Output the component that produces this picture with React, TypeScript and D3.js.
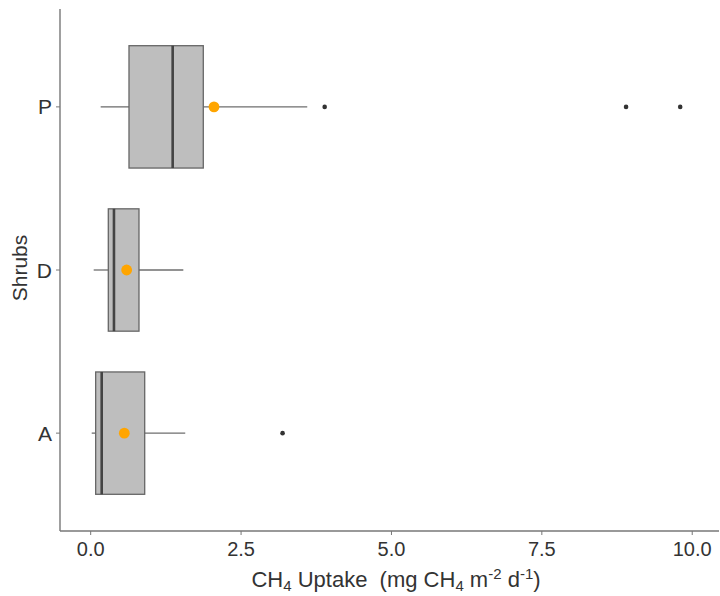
import React from "react";
import * as d3 from "d3";

const categories = ["A", "D", "P"];
const q1 = [0.083, 0.293, 0.637];
const median = [0.183, 0.387, 1.363];
const q3 = [0.898, 0.803, 1.872];
const whiskerLow = [0.017, 0.05, 0.166];
const whiskerHigh = [1.572, 1.54, 3.6];
const means = [0.559, 0.598, 2.05];
const outliers: number[][] = [[3.19], [], [3.89, 8.9, 9.8]];
const xTicks = [0, 2.5, 5, 7.5, 10];

const W = 720;
const H = 596;
const left = 60;
const right = 719;
const top = 9;
const bottom = 531;

export default function App() {
  const x = d3.scaleLinear().domain([-0.51, 10.445]).range([left, right]);
  const y = d3
    .scalePoint<string>()
    .domain([...categories].reverse())
    .range([top, bottom])
    .padding(0.6);
  const step = y.step();
  const bw = step * 0.75;
  const font = "'Liberation Sans', Arial, sans-serif";

  return (
    <svg
      width={W}
      height={H}
      style={{ position: "absolute", left: 0, top: 0, background: "#fff" }}
      fontFamily={font}
    >
      {categories.map((c, i) => {
        const cy = y(c)!;
        return (
          <g key={c}>
            <line x1={x(whiskerLow[i])} x2={x(q1[i])} y1={cy} y2={cy} stroke="#6e6e6e" strokeWidth={1.3} />
            <line x1={x(q3[i])} x2={x(whiskerHigh[i])} y1={cy} y2={cy} stroke="#6e6e6e" strokeWidth={1.3} />
            <rect
              x={x(q1[i])}
              y={cy - bw / 2}
              width={x(q3[i]) - x(q1[i])}
              height={bw}
              fill="#bebebe"
              stroke="#666"
              strokeWidth={1.3}
            />
            <line x1={x(median[i])} x2={x(median[i])} y1={cy - bw / 2} y2={cy + bw / 2} stroke="#444" strokeWidth={2.6} />
            {outliers[i].map((v, j) => (
              <circle key={j} cx={x(v)} cy={cy} r={2.3} fill="#333" />
            ))}
            <circle cx={x(means[i])} cy={cy} r={5.4} fill="#FFA500" />
          </g>
        );
      })}
      {/* axes */}
      <line x1={left} x2={left} y1={top} y2={bottom} stroke="#777" strokeWidth={1.4} />
      <line x1={left} x2={right} y1={bottom} y2={bottom} stroke="#777" strokeWidth={1.4} />
      {xTicks.map((t) => (
        <g key={t}>
          <line x1={x(t)} x2={x(t)} y1={bottom} y2={bottom + 4} stroke="#777" strokeWidth={1} />
          <text x={x(t)} y={556} textAnchor="middle" fontSize={20} fill="#333">
            {t.toFixed(1)}
          </text>
        </g>
      ))}
      {categories.map((c) => (
        <g key={c}>
          <line x1={left - 4} x2={left} y1={y(c)!} y2={y(c)!} stroke="#777" strokeWidth={1} />
          <text x={52} y={y(c)! + 7.5} textAnchor="end" fontSize={21} fill="#333">
            {c}
          </text>
        </g>
      ))}
      <text x={396} y={587} textAnchor="middle" fontSize={22} fill="#333" style={{ whiteSpace: "pre" }}>
        CH<tspan fontSize={15} dy={4}>4</tspan>
        <tspan dy={-4}>{" Uptake  (mg CH"}</tspan>
        <tspan fontSize={15} dy={4}>4</tspan>
        <tspan dy={-4}>{" m"}</tspan>
        <tspan fontSize={15} dy={-8}>-2</tspan>
        <tspan dy={8}>{" d"}</tspan>
        <tspan fontSize={15} dy={-8}>-1</tspan>
        <tspan dy={8}>)</tspan>
      </text>
      <text
        transform={`translate(27, 268) rotate(-90)`}
        textAnchor="middle"
        fontSize={21}
        fill="#333"
      >
        Shrubs
      </text>
    </svg>
  );
}
